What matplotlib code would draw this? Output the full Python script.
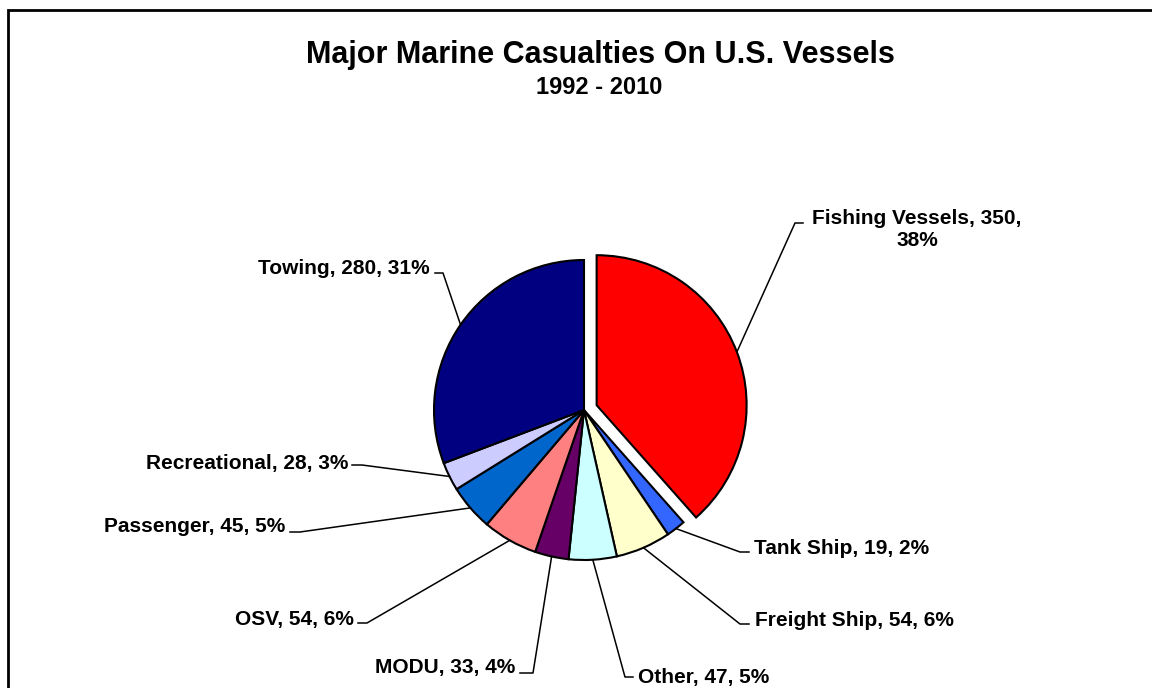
import matplotlib
matplotlib.use("Agg")
import matplotlib.pyplot as plt
import matplotlib.patches as mpatches
import numpy as np

plt.rcParams["font.family"] = ["Liberation Sans", "DejaVu Sans"]

# Data
categories = ["Fishing Vessels", "Tank Ship", "Freight Ship", "Other", "MODU",
              "OSV", "Passenger", "Recreational", "Towing"]
counts = [350, 19, 54, 47, 33, 54, 45, 28, 280]
colors = ["#FF0000", "#3366FF", "#FFFFCC", "#CCFFFF", "#660066",
          "#FF8080", "#0066CC", "#CCCCFF", "#000080"]

W, H = 1152, 688
CX, CY, R = 584, 410, 150  # pixel coords, y down
EXPLODE = 0.09             # fraction of radius for the fishing wedge
explode = [EXPLODE * R] + [0] * (len(counts) - 1)  # pie wants data units

# label layout: (elbow x, elbow y, end x, text x, text y, ha) in pixels, y down
layout = [
    (795, 223, 803, 917, 230, "center"),
    (740, 552, 749, 754, 549, "left"),
    (740, 624, 749, 755, 621, "left"),
    (625, 677, 633, 638, 677, "left"),
    (533, 673, 520, 515, 667, "right"),
    (367, 623, 358, 354, 619, "right"),
    (300, 532, 290, 285, 527, "right"),
    (362, 465, 352, 348, 463, "right"),
    (443, 273, 435, 430, 269, "right"),
]

fig = plt.figure(figsize=(W / 100, H / 100), dpi=100)
ax = fig.add_axes([0, 0, 1, 1])

wedges, _ = ax.pie(counts, colors=colors, explode=explode, startangle=90,
                   counterclock=False, center=(CX, H - CY), radius=R,
                   wedgeprops=dict(edgecolor="black", linewidth=1.5))
ax.set_xlim(0, W)
ax.set_ylim(0, H)
ax.set_aspect("equal")
ax.axis("off")

total = sum(counts)
for w, name, val, ex, lay in zip(wedges, categories, counts, explode, layout):
    ang = np.deg2rad((w.theta1 + w.theta2) / 2)
    rr = R + ex
    ax0 = CX + rr * np.cos(ang)
    ay0 = (H - CY) + rr * np.sin(ang)
    ex_, ey_, hx, tx, ty, ha = lay
    ax.plot([ax0, ex_, hx], [ay0, H - ey_, H - ey_], color="black", lw=1.1)
    pct = round(100 * val / total)
    if name == "Fishing Vessels":
        label = f"{name}, {val},\n{pct}%"
    else:
        label = f"{name}, {val}, {pct}%"
    ax.text(tx, H - ty, label, ha=ha, va="center", fontsize=15,
            fontweight="bold", linespacing=1.2)

fig.text(600 / W, 1 - 55 / H, "Major Marine Casualties On U.S. Vessels",
         ha="center", va="center", fontsize=22, fontweight="bold")
fig.text(599 / W, 1 - 88 / H, "1992 - 2010", ha="center", va="center",
         fontsize=17, fontweight="bold")

border = mpatches.Rectangle((8 / W, -0.1), 1.2, 1.1 - 10 / H,
                            transform=fig.transFigure, fill=False,
                            edgecolor="black", linewidth=2)
fig.patches.append(border)

fig.savefig("out.png", dpi=100)
